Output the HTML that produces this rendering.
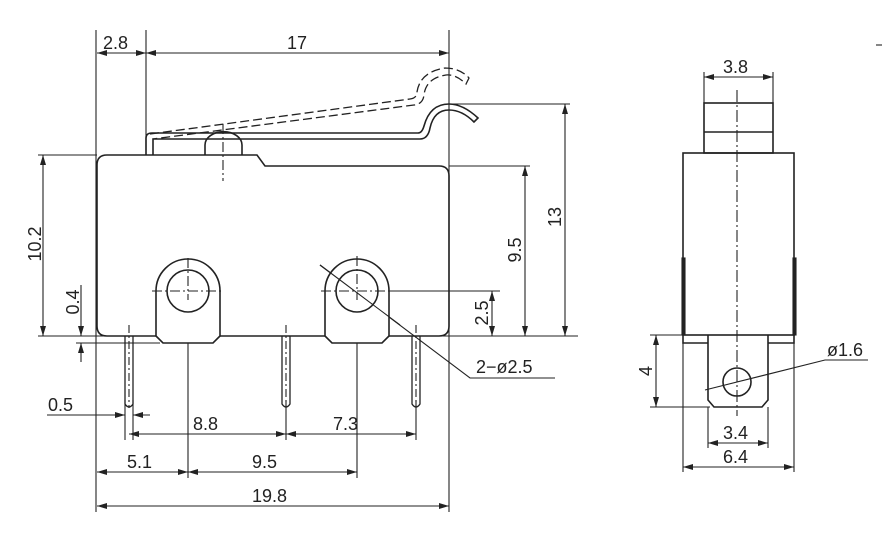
<!DOCTYPE html>
<html><head><meta charset="utf-8"><style>
html,body{margin:0;padding:0;background:#fff;}
svg{display:block;}
text{font-family:"Liberation Sans",sans-serif;font-size:18px;fill:#222;}
</style></head><body>
<svg width="885" height="543" viewBox="0 0 885 543" xmlns="http://www.w3.org/2000/svg">
<defs>
<marker id="a" viewBox="0 0 10 6" refX="10" refY="3" markerWidth="10" markerHeight="6" orient="auto-start-reverse" markerUnits="userSpaceOnUse"><path d="M0,0 L10,3 L0,6 z" fill="#222"/></marker>
</defs>
<g fill="none" stroke="#222" stroke-width="1.1">
<line x1="96" y1="30" x2="96" y2="512"/>
<line x1="146" y1="30" x2="146" y2="150"/>
<line x1="449" y1="30" x2="449" y2="512"/>
<line x1="38" y1="155" x2="97" y2="155"/>
<line x1="38" y1="336" x2="578" y2="336"/>
<line x1="76" y1="343" x2="160" y2="343"/>
<line x1="449" y1="104" x2="570" y2="104"/>
<line x1="449" y1="166" x2="530" y2="166"/>
<line x1="356" y1="291" x2="500" y2="291"/>
<line x1="97" y1="53" x2="146" y2="53" marker-start="url(#a)" marker-end="url(#a)"/>
<line x1="146" y1="53" x2="449" y2="53" marker-start="url(#a)" marker-end="url(#a)"/>
<line x1="43" y1="155" x2="43" y2="336" marker-start="url(#a)" marker-end="url(#a)"/>
<line x1="81" y1="285" x2="81" y2="336" marker-end="url(#a)"/>
<line x1="81" y1="362" x2="81" y2="343" marker-end="url(#a)"/>
<line x1="525" y1="166" x2="525" y2="336" marker-start="url(#a)" marker-end="url(#a)"/>
<line x1="565" y1="104" x2="565" y2="336" marker-start="url(#a)" marker-end="url(#a)"/>
<line x1="492" y1="291" x2="492" y2="336" marker-start="url(#a)" marker-end="url(#a)"/>
<line x1="47" y1="415" x2="125" y2="415" marker-end="url(#a)"/>
<line x1="150" y1="415" x2="133" y2="415" marker-end="url(#a)"/>
<line x1="125" y1="400" x2="125" y2="440"/>
<line x1="133" y1="400" x2="133" y2="440"/>
<line x1="286" y1="400" x2="286" y2="440"/>
<line x1="416" y1="400" x2="416" y2="440"/>
<line x1="129" y1="434" x2="286" y2="434" marker-start="url(#a)" marker-end="url(#a)"/>
<line x1="286" y1="434" x2="416" y2="434" marker-start="url(#a)" marker-end="url(#a)"/>
<line x1="188" y1="300" x2="188" y2="478"/>
<line x1="357" y1="300" x2="357" y2="478"/>
<line x1="97" y1="472" x2="188" y2="472" marker-start="url(#a)" marker-end="url(#a)"/>
<line x1="188" y1="472" x2="357" y2="472" marker-start="url(#a)" marker-end="url(#a)"/>
<line x1="97" y1="506" x2="449" y2="506" marker-start="url(#a)" marker-end="url(#a)"/>
<polyline points="320,265 470,378 555,378"/>
<path d="M107,155 L257,155 L265,166 L439,166 Q449,166 449,176 L449,326 Q449,336 439,336 L107,336 Q97,336 97,326 L97,165 Q97,155 107,155 Z" stroke-width="1.6"/>
<path d="M156,336 L156,291 A32,32 0 0 1 220,291 L220,336 L213,343 L163,343 Z" stroke-width="1.6" fill="#fff"/>
<path d="M325,336 L325,291 A32,32 0 0 1 389,291 L389,336 L382,343 L332,343 Z" stroke-width="1.6" fill="#fff"/>
<circle cx="188" cy="291" r="21" stroke-width="1.6"/>
<circle cx="357" cy="291" r="21" stroke-width="1.6"/>
<line x1="320" y1="265" x2="400" y2="325"/>
<line x1="152" y1="291" x2="224" y2="291" stroke-dasharray="10,3,2,3"/>
<line x1="321" y1="291" x2="393" y2="291" stroke-dasharray="10,3,2,3"/>
<line x1="188" y1="258" x2="188" y2="300" stroke-dasharray="10,3,2,3"/>
<line x1="357" y1="256" x2="357" y2="300" stroke-dasharray="10,3,2,3"/>
<path d="M125,336 L125,404 Q129,410 133,404 L133,336" stroke-width="1.3"/>
<path d="M282,336 L282,404 Q286,410 290,404 L290,336" stroke-width="1.3"/>
<path d="M412,336 L412,404 Q416,410 420,404 L420,336" stroke-width="1.3"/>
<line x1="129" y1="325" x2="129" y2="408" stroke-dasharray="8,3,2,3"/>
<line x1="286" y1="325" x2="286" y2="408" stroke-dasharray="8,3,2,3"/>
<line x1="416" y1="325" x2="416" y2="408" stroke-dasharray="8,3,2,3"/>
<path d="M205,155 L205,145 A18,13 0 0 1 242,145 L242,155" stroke-width="1.6"/>
<line x1="223" y1="124" x2="223" y2="181" stroke-dasharray="10,3,2,3"/>
<path d="M146,155 L146,138 Q146,133 152,133 L418,133 Q422,133 424,126 Q430,104 449,104 Q463,104 478,118 L474,122 Q462,110 449,110 Q434,110 430,128 Q428,139 420,139 L153,139 L153,155" stroke-width="1.6"/>
<path d="M150,134 L410,99 Q417,98 417,92 Q420,72 445,68 Q460,68 469,78 L466,84 Q456,74 446,75 Q426,78 424,95 Q423,104 414,105 L153,139" stroke-width="1.3" stroke-dasharray="9,4"/>
<rect x="704" y="103" width="69" height="50" stroke-width="1.6"/>
<line x1="704" y1="132" x2="773" y2="132" stroke-width="1.6"/>
<line x1="704" y1="72" x2="704" y2="103"/>
<line x1="773" y1="72" x2="773" y2="103"/>
<line x1="704" y1="77" x2="773" y2="77" marker-start="url(#a)" marker-end="url(#a)"/>
<rect x="683" y="153" width="111" height="182" stroke-width="1.6"/>
<rect x="682" y="258" width="3" height="77" fill="#222"/>
<rect x="793" y="258" width="3" height="77" fill="#222"/>
<path d="M683,335 L683,343 L708,343 M768,343 L794,343 L794,335" stroke-width="1.6"/>
<path d="M708,335 L708,400 L714,407 L762,407 L768,400 L768,335" stroke-width="1.6"/>
<circle cx="737" cy="382" r="14" stroke-width="1.6"/>
<line x1="737" y1="90" x2="737" y2="416" stroke-dasharray="12,3,2,3"/>
<line x1="650" y1="335" x2="683" y2="335"/>
<line x1="650" y1="407" x2="710" y2="407"/>
<line x1="656" y1="335" x2="656" y2="407" marker-start="url(#a)" marker-end="url(#a)"/>
<line x1="708" y1="407" x2="708" y2="448"/>
<line x1="768" y1="407" x2="768" y2="448"/>
<line x1="708" y1="443" x2="768" y2="443" marker-start="url(#a)" marker-end="url(#a)"/>
<line x1="683" y1="343" x2="683" y2="472"/>
<line x1="794" y1="343" x2="794" y2="472"/>
<line x1="683" y1="467" x2="794" y2="467" marker-start="url(#a)" marker-end="url(#a)"/>
<polyline points="705,390 825,360 868,360"/>
<line x1="876" y1="45" x2="882" y2="45"/>
</g>
<text x="103" y="49">2.8</text>
<text x="287" y="49">17</text>
<text x="476" y="373">2−ø2.5</text>
<text x="48" y="411">0.5</text>
<text x="193" y="430">8.8</text>
<text x="333" y="430">7.3</text>
<text x="127" y="468">5.1</text>
<text x="252" y="468">9.5</text>
<text x="252" y="502">19.8</text>
<text transform="translate(41,244) rotate(-90)" text-anchor="middle">10.2</text>
<text transform="translate(79,302) rotate(-90)" text-anchor="middle">0.4</text>
<text transform="translate(488,313) rotate(-90)" text-anchor="middle">2.5</text>
<text transform="translate(521,250) rotate(-90)" text-anchor="middle">9.5</text>
<text transform="translate(561,217) rotate(-90)" text-anchor="middle">13</text>
<text x="723" y="73">3.8</text>
<text x="827" y="356">ø1.6</text>
<text transform="translate(652,371) rotate(-90)" text-anchor="middle">4</text>
<text x="723" y="439">3.4</text>
<text x="723" y="463">6.4</text>
</svg>
</body></html>
